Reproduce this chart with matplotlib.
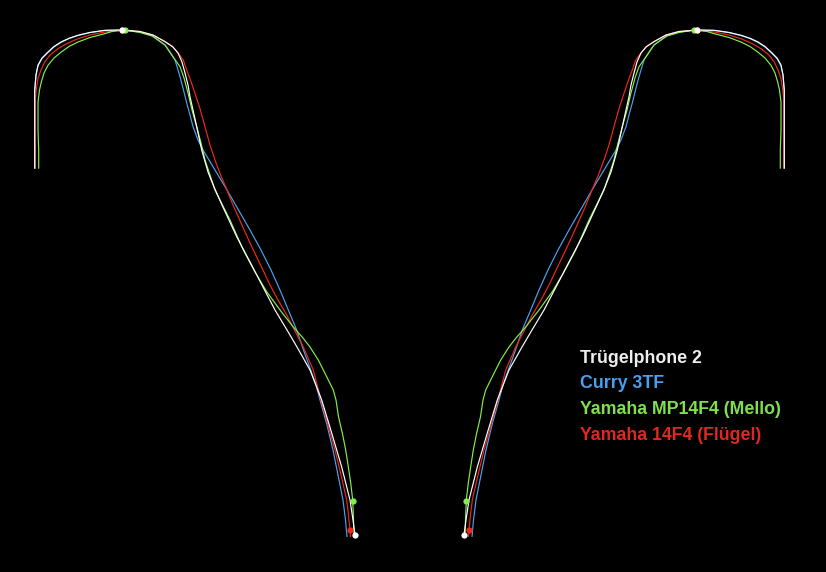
import matplotlib
matplotlib.use("Agg")
import matplotlib.pyplot as plt
import numpy as np

# Mouthpiece inner profiles: radius from bore axis (r) and depth below rim apex (z)
series_names = ["Trügelphone 2", "Curry 3TF", "Yamaha MP14F4 (Mello)", "Yamaha 14F4 (Flügel)"]
series_colors = ["#ffffff", "#4aa3f2", "#86ee48", "#f0281c"]
text_colors = ["#eeeeee", "#4a9ff0", "#80e04a", "#e0281e"]

white_r = [374.8, 374.8, 374.8, 373.5, 371.5, 367.5, 361.5, 355.5, 348.5, 340.5, 331.5, 319.5, 304.8, 287.5,
           269.5, 256.5, 244.5, 236.5, 231.5, 227.5, 224.5, 221.5, 219.5, 216.5, 212.8, 207.8, 201.5, 195.5,
           187.5, 172.8, 159.5, 146.5, 134.5, 122.5, 112.5, 99.5, 87.8, 77.8, 67.8, 59.5, 56.5, 54.5]
white_z = [138.7, 100, 60, 45, 35, 28, 22, 16.5, 12, 8.3, 5.3, 2.5, 0.3, 0,
           1.5, 5, 11.7, 17, 23, 32, 43, 55, 66.7, 80, 96.7, 120, 142, 157,
           175, 206.7, 232, 257, 280, 300, 317, 340, 370, 403, 437, 470, 490, 505]

blue_r = [374.8, 374.8, 374.8, 373.5, 371.5, 367.5, 361.5, 355.5, 348.5, 340.5, 331.5, 319.5, 304.8, 287.5,
          269.5, 256.5, 244.5, 239.5, 234.5, 229.5, 226.5, 222.8, 219.5, 216.5, 211.5, 206.5, 200.5, 194.5,
          182.5, 171, 159.5, 148.5, 138.5, 129.5, 121.2, 112.8, 106, 99.5, 93.5, 89.5,
          82.5, 76.5, 71.5, 66.5, 64, 62.5]
blue_z = [138.7, 100, 62, 45, 36, 28.5, 22.5, 17, 12.5, 8.5, 5.5, 2.5, 0.5, 0,
          2, 6, 15, 22, 30, 46.7, 58, 73, 85, 96.7, 110, 120, 130, 140,
          160, 180, 200, 220, 240, 260, 280, 300, 320, 338, 355, 370,
          395, 420, 445, 470, 490, 507]

green_r = [370.8, 370.8, 371.5, 371.5, 370, 368.2, 365.5, 361.5, 355.5, 348.2, 340.5, 331.5, 319.5, 304.8,
           297.5, 284.5, 269.5, 257.5, 244.5, 237.8, 229.5, 225.5, 221.5, 217.5, 212.8, 208.5, 204.5, 199.5,
           194.5, 189.5, 179.5, 166.2, 154.5, 142.8, 129.5, 116.2, 106.5, 99.5, 91.2, 82.8, 76.2, 73.5,
           71, 67.2, 63.8, 61.2, 58.8, 56.8, 56, 55.5]
green_z = [138.7, 120, 100, 72, 60, 52, 43, 35.3, 28, 22, 16.5, 12, 7.5, 3.7,
           1.5, 0, 2.5, 6, 15, 25, 36.7, 48, 63, 80, 96.7, 113, 130, 145,
           160, 170, 190, 220, 242, 261.7, 280, 297, 308, 317, 330, 346.7, 360, 370,
           386.7, 403, 420, 436.7, 453, 470, 490, 507]

red_r = [374.2, 374.2, 374.2, 373, 371.5, 368.5, 364.8, 359.5, 351.5, 342.5, 331.5, 319.5, 304.8, 287.5,
         269.5, 256.5, 244.5, 237.5, 231.2, 226.2, 222.8, 219.5, 214.5, 209.5, 204.5, 199.5, 194.5, 188.5,
         182.5, 176.5, 164.5, 156.2, 147.5, 139.5, 131.5, 122.8, 114.5, 106.2, 96.2, 88.5, 81.5, 74.5,
         68.5, 62.8, 61, 59.5, 59]
red_z = [138.7, 100, 68.7, 58, 48.7, 40, 32, 25, 18.7, 13.5, 8.7, 5, 2, 0,
         1.5, 5, 11.5, 16, 23.3, 30, 40, 48.7, 63.3, 78.7, 96.7, 115, 130, 146,
         160, 175, 202, 220, 238, 255, 270, 285, 301, 317, 340, 370, 395, 420,
         445, 470, 485, 500, 507]

# marker points (rim apex and throat entry)
white_mark_r = [287.5, 54.5]
white_mark_z = [0, 505]
green_mark_r = [284.5, 56.5]
green_mark_z = [0, 471]
red_mark_r = [287.5, 59.5]
red_mark_z = [0, 500]

fig = plt.figure(figsize=(8.26, 5.72), dpi=100)
fig.patch.set_facecolor("black")
ax = fig.add_axes([0, 0, 1, 1])
ax.set_facecolor("black")
ax.axis("off")

profiles = [
    (blue_r, blue_z, series_colors[1], None, None, 1),
    (red_r, red_z, series_colors[3], red_mark_r, red_mark_z, 2),
    (green_r, green_z, series_colors[2], green_mark_r, green_mark_z, 3),
    (white_r, white_z, series_colors[0], white_mark_r, white_mark_z, 4),
]
for r, z, col, mr, mz, zo in profiles:
    r = np.asarray(r, float)
    z = np.asarray(z, float)
    for side in (-1, 1):
        ax.plot(side * r, z, color=col, lw=0.85, zorder=zo, solid_capstyle="butt",
                solid_joinstyle="round")
        if mr is not None:
            ax.plot(side * np.asarray(mr), mz, "o", color=col, ms=4.5, mec="none", zorder=zo + 10)

ax.set_xlim(-409.5, 416.5)
ax.set_ylim(542, -30)

baselines = [363, 388.5, 414, 439.5]
for name, col, b in zip(series_names, text_colors, baselines):
    fig.text(580 / 826, 1 - b / 572, name, color=col, fontsize=12.8, fontweight="bold",
             family=["Liberation Sans", "DejaVu Sans"], ha="left", va="baseline")

fig.savefig("out.png", dpi=100, facecolor="black")
